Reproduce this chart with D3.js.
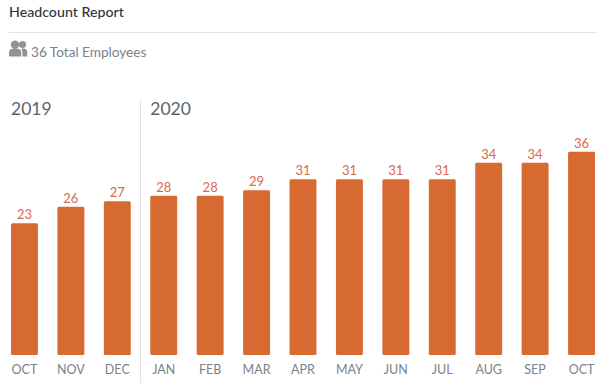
<!DOCTYPE html>
<html>
<head>
<meta charset="utf-8">
<script src="https://cdn.jsdelivr.net/npm/d3@7"></script>
<style>
html, body { margin: 0; padding: 0; background: #fff; }
svg { display: block; font-family: Lato, sans-serif; }
</style>
</head>
<body>
<svg id="chart" width="602" height="383"></svg>
<script>
const months = ["OCT", "NOV", "DEC", "JAN", "FEB", "MAR", "APR", "MAY", "JUN", "JUL", "AUG", "SEP", "OCT "];
const headcount = [23, 26, 27, 28, 28, 29, 31, 31, 31, 31, 34, 34, 36];
const yearLabels = ["2019", "2020"];
const yearStarts = [0, 3];

const barColor = "#d66a30";
const labelColor = "#d9694a";
const textColor = "#7b8189";

let svg = d3.select("#chart");

let xScale = d3.scaleBand()
    .domain(d3.range(months.length))
    .range([11, 595])
    .paddingInner(0.42);

// the baseline in the picture sits a little below zero
let yScale = d3.scaleLinear()
    .domain([-1, 36])
    .range([355, 151.7]);

// header
svg.append("text")
    .attr("x", 9)
    .attr("y", 17)
    .text("Headcount Report")
    .style("font-size", "14.2px")
    .style("font-weight", 500)
    .style("fill", "#2f353c");

svg.append("line")
    .attr("x1", 9)
    .attr("x2", 597)
    .attr("y1", 32.5)
    .attr("y2", 32.5)
    .attr("stroke", "#e3e3e3")
    .attr("stroke-width", 1);

// people icon
let icon = svg.append("g").attr("fill", "#8f9296");
icon.append("circle").attr("cx", 15).attr("cy", 44.8).attr("r", 4.2);
icon.append("circle").attr("cx", 22.5).attr("cy", 44.5).attr("r", 3.6);
icon.append("path").attr("d", "M9 56.5v-4q0-3.8 3.8-3.8h4.6q3.8 0 3.8 3.8v4z");
icon.append("path").attr("d", "M22.4 56.5v-4q0-2.4-1.4-4h2.4q3.8 0 3.8 3.6v4.4z");

svg.append("text")
    .attr("x", 31)
    .attr("y", 56.5)
    .text("36 Total Employees")
    .style("font-size", "13.6px")
    .style("fill", textColor);

// year labels
svg.selectAll(".yearLabel")
    .data(yearLabels)
    .enter()
    .append("text")
    .attr("class", "yearLabel")
    .attr("x", function(d, i) { return xScale(yearStarts[i]); })
    .attr("y", 115)
    .text(function(d) { return d; })
    .style("font-size", "17.5px")
    .style("fill", "#5e636a");

// divider between the years
let dividerX = Math.floor((xScale(2) + xScale.bandwidth() + xScale(3)) / 2) + 0.5;
svg.append("line")
    .attr("x1", dividerX)
    .attr("x2", dividerX)
    .attr("y1", 100)
    .attr("y2", 383)
    .attr("stroke", "#e3e3e3")
    .attr("stroke-width", 1);

// bars
svg.selectAll(".bar")
    .data(headcount)
    .enter()
    .append("rect")
    .attr("class", "bar")
    .attr("x", function(d, i) { return xScale(i); })
    .attr("y", function(d) { return yScale(d); })
    .attr("width", xScale.bandwidth())
    .attr("height", function(d) { return yScale.range()[0] - yScale(d); })
    .attr("rx", 1.5)
    .attr("fill", barColor);

// value labels
svg.selectAll(".barValue")
    .data(headcount)
    .enter()
    .append("text")
    .attr("class", "barValue")
    .attr("x", function(d, i) { return xScale(i) + xScale.bandwidth() / 2; })
    .attr("y", function(d) { return yScale(d) - 4; })
    .text(function(d) { return d; })
    .style("text-anchor", "middle")
    .style("font-size", "13px")
    .style("fill", labelColor);

// month labels
svg.selectAll(".monthLabel")
    .data(months)
    .enter()
    .append("text")
    .attr("class", "monthLabel")
    .attr("x", function(d, i) { return xScale(i) + xScale.bandwidth() / 2; })
    .attr("y", 374)
    .text(function(d) { return d.trim(); })
    .style("text-anchor", "middle")
    .style("font-size", "12.5px")
    .style("fill", textColor);
</script>
</body>
</html>
